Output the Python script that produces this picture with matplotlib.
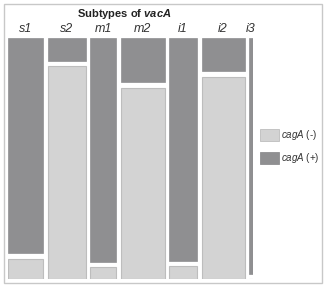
import matplotlib
matplotlib.use("Agg")
import matplotlib.pyplot as plt
from matplotlib.patches import Rectangle

plt.rcParams["mathtext.fontset"] = "custom"
plt.rcParams["mathtext.rm"] = "Liberation Sans"
plt.rcParams["mathtext.it"] = "Liberation Sans:italic"
plt.rcParams["mathtext.bf"] = "Liberation Sans:bold"
plt.rcParams["mathtext.bfit"] = "Liberation Sans:bold:italic"

categories = ["s1", "s2", "m1", "m2", "i1", "i2", "i3"]
counts = [35, 38, 26, 44, 28, 43, 4]            # relative column widths
cag_pos = [0.905, 0.106, 0.94, 0.195, 0.936, 0.15, 0.99]  # share cagA(+)
legend_labels = ["cagA (-)", "cagA (+)"]

dark = "#8f8f91"
light = "#d3d3d3"
light_edge = "#bdbdbd"

W, H = 324, 288
fig = plt.figure(figsize=(W / 100, H / 100), dpi=100)
fig.patch.set_facecolor("white")

# outer frame
fig.add_artist(Rectangle((4 / W, 5 / H), 318 / W, 279 / H, transform=fig.transFigure,
                         fill=False, edgecolor="#c8c8c8", linewidth=1.0))

gap = 4.5
vgap = 0.011
total = sum(counts) + gap * (len(counts) - 1)
ax = fig.add_axes([8 / W, (H - 279) / H, 245 / W, 241 / H])
ax.set_xlim(0, total)
ax.set_ylim(0, 1)
ax.axis("off")

font = ["Liberation Sans", "DejaVu Sans"]
x = 0
centers = []
for cat, w, p in zip(categories, counts, cag_pos):
    neg = 1 - p
    ax.bar(x, neg - vgap, width=w, bottom=0, align="edge", color=light,
           edgecolor=light_edge, linewidth=0.8)
    ax.bar(x, p - vgap, width=w, bottom=neg + vgap, align="edge", color=dark,
           edgecolor=dark, linewidth=0.5)
    centers.append(x + w / 2)
    x += w + gap

for c, cat in zip(centers, categories):
    ax.text(c, 1.012, cat, ha="center", va="bottom", fontsize=9,
            style="italic", family=font, color="#333333")

fig.text(124 / W, (H - 14) / H, r"Subtypes of $\bfit{vacA}$", ha="center",
         va="center", fontsize=8, fontweight="bold", family=font, color="#222222")

# legend
for i, (lab, col, ec) in enumerate(zip(legend_labels, [light, dark], [light_edge, dark])):
    y = 129 + i * 23
    fig.add_artist(Rectangle((260 / W, (H - y - 12) / H), 19 / W, 12 / H,
                             transform=fig.transFigure, facecolor=col, edgecolor=ec, linewidth=0.6))
    fig.text(281 / W, (H - y - 6) / H, r"$\mathit{cagA}$" + lab[4:], ha="left", va="center",
             fontsize=7, family=font, color="#333333")

fig.savefig("out.png", dpi=100)
